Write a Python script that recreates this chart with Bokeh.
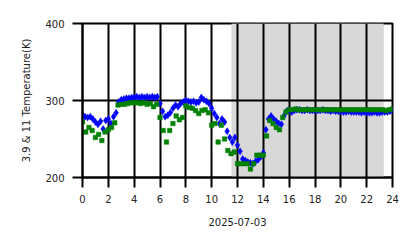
import numpy as np
from bokeh.plotting import figure
from bokeh.models import BoxAnnotation, FixedTicker
from bokeh.embed import file_html
from bokeh.resources import INLINE

# Hours (UT) and temperatures (K)
blue_hours = [round(0.2 * i, 1) for i in range(121)]
blue_temp = [
    281, 279, 278, 279, 276, 272, 269, 273, 263, 274,
    276, 270, 279, 284, 298, 301, 302, 303, 303, 304,
    304, 305, 304, 305, 304, 305, 304, 305, 304, 305,
    296, 286, 279, 281, 284, 290, 294, 292, 296, 298,
    300, 299, 298, 299, 297, 298, 304, 301, 299, 296,
    290, 283, 278, 270, 276, 272, 260, 252, 246, 252,
    242, 234, 224, 222, 220, 219, 218, 221, 223, 227,
    232, 262, 276, 280, 276, 273, 270, 269, 280, 286,
    287, 285, 287, 288, 288, 287, 287, 288, 287, 287,
    287, 287, 287, 288, 287, 287, 286, 287, 286, 286,
    286, 285, 285, 286, 285, 285, 285, 285, 284, 285,
    284, 284, 284, 285, 284, 284, 285, 285, 285, 286,
    287,
]
green_hours = [0.25 * i for i in range(97)]
green_temp = [
    272, 259, 265, 261, 252, 256, 248, 259,
    262, 265, 271, 294, 295, 295, 296, 297,
    297, 297, 296, 297, 295, 296, 292, 295,
    278, 261, 246, 261, 270, 280, 275, 278,
    293, 291, 290, 287, 283, 287, 288, 284,
    268, 270, 246, 268, 250, 235, 231, 233,
    218, 218, 218, 218, 211, 218, 229, 229,
    229, 254, 274, 270, 265, 262, 278, 285,
    288, 288, 289, 288, 288, 288, 288, 288,
    288, 288, 288, 288, 288, 288, 288, 288,
    288, 288, 288, 288, 288, 288, 288, 288,
    288, 288, 288, 288, 288, 288, 287, 288,
    289,
]
shade_start, shade_end = 11.55, 23.3
x_ticks = list(range(0, 25, 2))
y_ticks = [200, 300, 400]

FONT = "DejaVu Sans"

p = figure(width=418, height=248, x_range=(0, 24), y_range=(200, 400),
           output_backend="svg", toolbar_location=None,
           min_border_left=82, min_border_right=26,
           min_border_top=23, min_border_bottom=71)
p.background_fill_color = "white"
p.border_fill_color = "white"
p.outline_line_color = "black"
p.outline_line_width = 2

p.add_layout(BoxAnnotation(left=shade_start, right=shade_end,
                           fill_color="#d8d8d8", fill_alpha=1.0,
                           line_color="#c4c4c4", line_width=1, level="image"))

p.scatter(blue_hours, blue_temp, marker="diamond", size=7,
          fill_color="#0000ff", line_color="#0000ff", line_width=0.5)
p.scatter(green_hours, green_temp, marker="square", size=4.5,
          fill_color="#008000", line_color="#008000", line_width=0.5)

p.xaxis.ticker = FixedTicker(ticks=x_ticks)
p.yaxis.ticker = FixedTicker(ticks=y_ticks)
p.xgrid.ticker = FixedTicker(ticks=x_ticks)
p.ygrid.ticker = FixedTicker(ticks=y_ticks)
for g in (p.xgrid, p.ygrid):
    g.grid_line_color = "black"
    g.grid_line_width = 2
    g.grid_line_alpha = 1.0

for ax in (p.xaxis, p.yaxis):
    ax.axis_line_width = 2
    ax.axis_line_color = "black"
    ax.major_tick_out = 10
    ax.major_tick_in = 0
    ax.major_tick_line_width = 2
    ax.major_tick_line_color = "black"
    ax.minor_tick_line_color = None
    ax.major_label_text_font = FONT
    ax.major_label_text_font_size = "10px"
    ax.major_label_text_color = "#222222"
    ax.axis_label_text_font = FONT
    ax.axis_label_text_font_size = "10px"
    ax.axis_label_text_font_style = "normal"
    ax.axis_label_text_color = "#222222"

p.xaxis.axis_label = "2025-07-03"
p.yaxis.axis_label = "3.9 & 11 Temperature(K)"
p.xaxis.major_label_standoff = 7
p.yaxis.major_label_standoff = 8
p.xaxis.axis_label_standoff = 12
p.yaxis.axis_label_standoff = 10

open("out.html", "w").write(file_html(p, INLINE))
